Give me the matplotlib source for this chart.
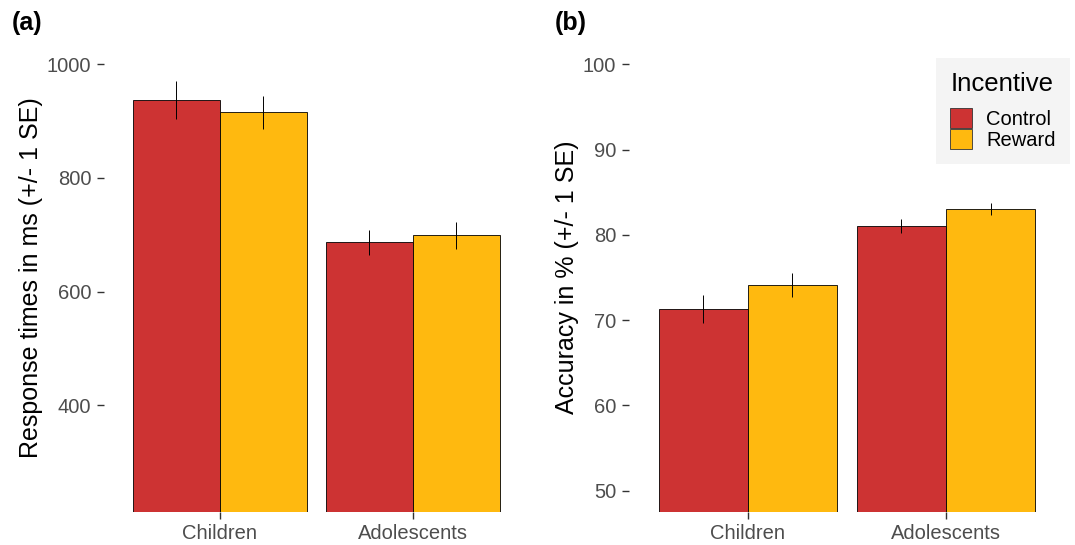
import matplotlib.pyplot as plt
import numpy as np
from matplotlib.patches import Patch

plt.rcParams['font.family'] = ['Liberation Sans', 'DejaVu Sans']

groups = ['Children', 'Adolescents']
conditions = ['Control', 'Reward']
colors = ['#CD3333', '#FFB90F']

# response times (ms) and SE
rt_mean = {'Control': [937, 687], 'Reward': [916, 699]}
rt_se = {'Control': [33, 22], 'Reward': [29, 24]}
# accuracy (%) and SE
acc_mean = {'Control': [71.3, 81.0], 'Reward': [74.1, 83.0]}
acc_se = {'Control': [1.6, 0.8], 'Reward': [1.4, 0.7]}

fig = plt.figure(figsize=(10.75, 5.45), dpi=100)
ax1 = fig.add_axes([0.0967, 0.0606, 0.395, 0.8606])
ax2 = fig.add_axes([0.585, 0.0606, 0.4056, 0.8606])

tick_col = '#4D4D4D'
x = np.arange(len(groups)) + 1
w = 0.45


def draw(ax, means, ses, lo, hi, ticks, ylabel):
    for i, c in enumerate(conditions):
        xs = x + (i - 0.5) * w
        ax.bar(xs, means[c], width=w, color=colors[i], edgecolor='black',
               linewidth=0.6, zorder=2)
        ax.errorbar(xs, means[c], yerr=ses[c], fmt='none', ecolor='black',
                    elinewidth=0.7, capsize=0, zorder=3)
    rng = hi - lo
    ax.set_ylim(lo - 0.05 * rng, hi + 0.05 * rng)
    ax.set_xlim(0.4, 2.6)
    ax.set_xticks(x)
    ax.set_xticklabels(groups)
    ax.set_yticks(ticks)
    for s in ax.spines.values():
        s.set_visible(False)
    ax.tick_params(axis='both', colors='#333333', labelcolor=tick_col,
                   labelsize=14.5, length=5, width=1, pad=4)
    ax.set_ylabel(ylabel, fontsize=18, color='black', labelpad=3)


draw(ax1, rt_mean, rt_se, 250, 1000, [400, 600, 800, 1000],
     'Response times in ms (+/- 1 SE)')
draw(ax2, acc_mean, acc_se, 50, 100, [50, 60, 70, 80, 90, 100],
     'Accuracy in % (+/- 1 SE)')

handles = [Patch(facecolor=colors[i], edgecolor='#333333', linewidth=0.6,
                 label=c) for i, c in enumerate(conditions)]
leg = ax2.legend(handles=handles, title='Incentive', loc='upper right',
                 bbox_to_anchor=(1.035, 0.99), fontsize=14.5,
                 title_fontsize=18.5, frameon=True, fancybox=False,
                 handlelength=1.1, handleheight=1.15, handletextpad=0.7,
                 labelspacing=0.0, borderpad=0.7)
leg.get_frame().set_facecolor('#F2F2F2')
leg.get_frame().set_edgecolor('none')
leg._legend_box.align = 'left'
leg._legend_box.sep = 9

fig.text(0.011, 0.945, '(a)', fontsize=18, fontweight='bold')
fig.text(0.516, 0.945, '(b)', fontsize=18, fontweight='bold')

fig.savefig('out.png', dpi=100)
